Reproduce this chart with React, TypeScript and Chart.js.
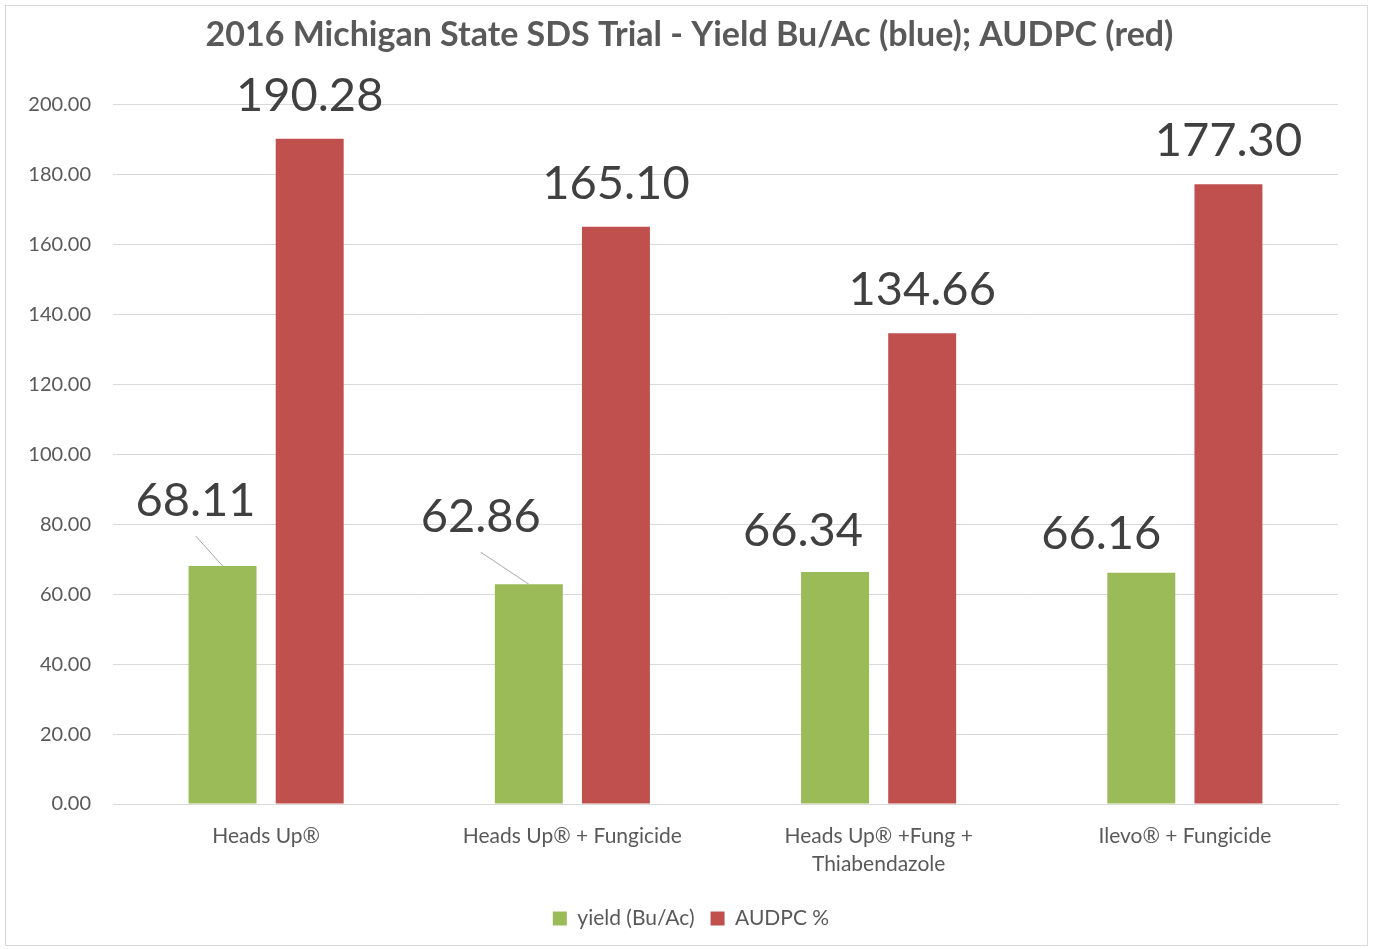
import React, { useEffect, useRef } from "react";
import { Chart, registerables } from "chart.js";

Chart.register(...registerables);

const titleText = "2016 Michigan State SDS Trial - Yield Bu/Ac (blue); AUDPC (red)";
const categories: string[][] = [
  ["Heads Up®"],
  ["Heads Up® + Fungicide"],
  ["Heads Up® +Fung +", "Thiabendazole"],
  ["Ilevo® + Fungicide"],
];
const yieldLabel = "yield (Bu/Ac)";
const audpcLabel = "AUDPC %";
const yieldValues = [68.11, 62.86, 66.34, 66.16];
const audpcValues = [190.28, 165.1, 134.66, 177.3];
const yMin = 0;
const yMax = 200;
const yStep = 20;

// label placement (offsets from bar top centre), as Excel placed them
const yieldLabelOffsets = [
  [-27, -65],
  [-48, -67],
  [-32, -41],
  [-40, -39],
];
const yieldLeaders = [true, true, false, false];
const audpcLabelOffset = [0, -43];

const FONT = "Lato, 'Open Sans', sans-serif";
const GREEN = "#9BBB59";
const RED = "#C0504D";

const labelPlugin = {
  id: "bigLabels",
  afterDatasetsDraw(chart: any) {
    const ctx = chart.ctx;
    ctx.save();
    ctx.font = `47px ${FONT}`;
    ctx.fillStyle = "#404040";
    ctx.textAlign = "center";
    ctx.textBaseline = "middle";
    chart.data.datasets.forEach((ds: any, di: number) => {
      const meta = chart.getDatasetMeta(di);
      meta.data.forEach((el: any, i: number) => {
        const v = ds.data[i] as number;
        const off = di === 0 ? yieldLabelOffsets[i] : audpcLabelOffset;
        const lx = el.x + off[0];
        const ly = el.y + off[1];
        if (di === 0 && yieldLeaders[i]) {
          ctx.save();
          ctx.strokeStyle = "#a6a6a6";
          ctx.lineWidth = 1;
          ctx.beginPath();
          ctx.moveTo(lx, ly + 35);
          ctx.lineTo(el.x, el.y);
          ctx.stroke();
          ctx.restore();
        }
        ctx.fillText(v.toFixed(2), lx, ly);
      });
    });
    ctx.restore();
  },
};

// centre title and legend across the whole chart frame (as Excel does)
const fullWidthBlocks = {
  id: "fullWidthBlocks",
  afterLayout(chart: any) {
    if (chart.titleBlock) {
      chart.titleBlock.left = 6;
      chart.titleBlock.right = chart.width;
    }
    if (chart.legend) {
      chart.legend.left = 38;
    }
  },
};

export default function App() {
  const ref = useRef<HTMLCanvasElement>(null);
  useEffect(() => {
    if (!ref.current) return;
    const chart = new Chart(ref.current, {
      type: "bar",
      data: {
        labels: categories,
        datasets: [
          {
            label: yieldLabel,
            data: yieldValues,
            backgroundColor: GREEN,
            categoryPercentage: 0.569,
            barPercentage: 0.78,
          },
          {
            label: audpcLabel,
            data: audpcValues,
            backgroundColor: RED,
            categoryPercentage: 0.569,
            barPercentage: 0.78,
          },
        ],
      },
      options: {
        responsive: false,
        animation: false,
        layout: { padding: { left: 0, right: 29, top: 0, bottom: 6 } },
        plugins: {
          title: {
            display: true,
            text: titleText,
            color: "#595959",
            font: { family: FONT, size: 34, weight: "bold" },
            padding: { top: 9, bottom: 49 },
          },
          legend: {
            position: "bottom",
            labels: {
              boxWidth: 14,
              boxHeight: 14,
              padding: 16,
              color: "#595959",
              font: { family: FONT, size: 21 },
            },
          },
          tooltip: { enabled: false },
        },
        scales: {
          x: {
            grid: { display: false, drawTicks: false },
            border: { display: true, color: "#d9d9d9", width: 1 },
            ticks: {
              color: "#595959",
              font: { family: FONT, size: 21, lineHeight: 1.35 },
              padding: 18,
              maxRotation: 0,
              autoSkip: false,
            },
            afterFit(scale: any) {
              scale.height = 88;
            },
          },
          y: {
            min: yMin,
            max: yMax,
            grid: { color: "#d9d9d9", lineWidth: 1, drawTicks: false },
            border: { display: false },
            ticks: {
              stepSize: yStep,
              color: "#595959",
              font: { family: FONT, size: 20 },
              padding: 22,
              callback: (v: any) => Number(v).toFixed(2),
            },
            afterFit(scale: any) {
              scale.width = 107;
            },
          },
        },
      },
      plugins: [labelPlugin, fullWidthBlocks],
    });
    return () => chart.destroy();
  }, []);

  return (
    <div
      style={{
        position: "fixed",
        left: 5,
        top: 5,
        width: 1363,
        height: 941,
        border: "1px solid #d9d9d9",
        boxSizing: "border-box",
        background: "#fff",
      }}
    >
      <canvas ref={ref} width={1361} height={939} style={{ display: "block" }} />
    </div>
  );
}
